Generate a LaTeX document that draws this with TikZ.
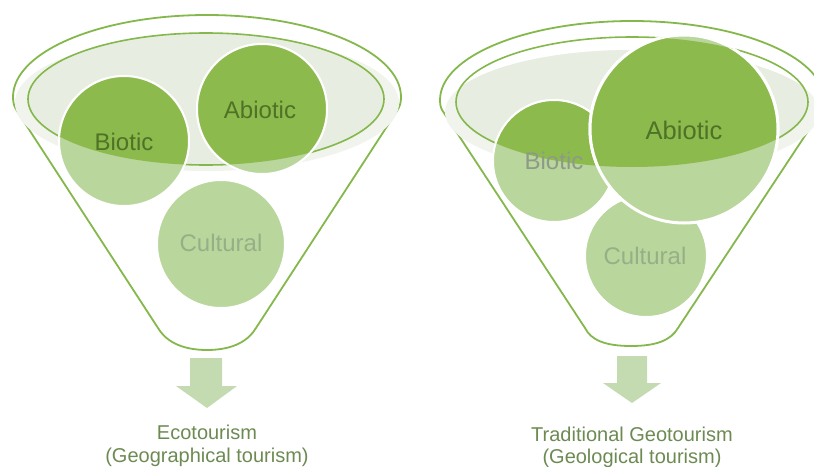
\documentclass[tikz,border=0pt]{standalone}
\usepackage{fontspec}
\setmainfont{Liberation Sans}
\definecolor{gline}{HTML}{84B84C}
\definecolor{gdark}{HTML}{8CBA4C}
\definecolor{glight}{HTML}{B9D69C}
\definecolor{rimfill}{HTML}{F1F4EC}
\definecolor{innerfill}{HTML}{E7EDE0}
\definecolor{arrowc}{HTML}{C4DAB1}
\definecolor{txtdark}{HTML}{4E7226}
\definecolor{txtgray}{HTML}{8E9A88}
\definecolor{txtcult}{HTML}{97AF86}
\definecolor{txtbottom}{HTML}{6C8A52}
\begin{document}
\begin{tikzpicture}[x=1pt,y=-1pt,
  funnel/.style={draw=gline, line width=1.8pt, fill=white},
  rimline/.style={draw=gline, line width=1.6pt},
  lbl/.style={font=\fontsize{24}{28}\selectfont, inner sep=0pt},
  biglbl/.style={font=\fontsize{25.5}{29}\selectfont, inner sep=0pt},
  bottomlbl/.style={font=\fontsize{20}{23}\selectfont, text=txtbottom, inner sep=0pt, anchor=base},
  ball/.style={fill=glight, draw=white, line width=2pt},
  darkball/.style={fill=gdark, draw=white, line width=2pt},
  blockarrow/.style={fill=arrowc}]
\useasboundingbox (0,0) rectangle (814,466);

% ---------------- left funnel ----------------
\draw[funnel] (13,97) arc[start angle=180, end angle=360, x radius=194, y radius=82]
  .. controls (401,103) and (400,106) .. (397,111) -- (256,328)
  .. controls (249,340) and (234,350) .. (207,350)
  .. controls (180,350) and (165,340) .. (158,328) -- (17,111)
  .. controls (14,106) and (13,103) .. (13,97) -- cycle;
\fill[rimfill] (207,103) ellipse[x radius=192, y radius=68];
\begin{scope}
  \clip (206,99) ellipse[x radius=178, y radius=66];
  \fill[innerfill] (206,99) ellipse[x radius=178, y radius=66];
\end{scope}
\draw[rimline] (206,99) ellipse[x radius=178, y radius=66];

\draw[ball] (124,141) circle[radius=65];
\begin{scope}
  \clip (206,99) ellipse[x radius=178, y radius=66];
  \draw[darkball] (124,141) circle[radius=65];
\end{scope}
\node[lbl, text=txtdark] (biotic1) at (124,142) {Biotic};

\draw[ball] (262,109) circle[radius=65];
\begin{scope}
  \clip (206,99) ellipse[x radius=178, y radius=66];
  \draw[darkball] (262,109) circle[radius=65];
\end{scope}
\node[lbl, text=txtdark] (abiotic1) at (260,110) {Abiotic};

\draw[ball] (221,244) circle[radius=64];
\node[lbl, text=txtcult] (cultural1) at (221,243) {Cultural};

\fill[blockarrow] (190,358) -- (222,358) -- (222,386) -- (237,386) -- (207,408)
  -- (176,386) -- (190,386) -- cycle;
\node[bottomlbl] (eco1) at (207,439) {Ecotourism};
\node[bottomlbl] (eco2) at (207,462) {(Geographical tourism)};

% ---------------- right funnel ----------------
\draw[funnel] (440,100) arc[start angle=180, end angle=360, x radius=192, y radius=79]
  .. controls (824,106) and (823,109) .. (820,113) -- (678,328)
  .. controls (671,340) and (657,346) .. (631,346)
  .. controls (605,346) and (591,340) .. (585,328) -- (444,113)
  .. controls (441,109) and (440,106) .. (440,100) -- cycle;
\fill[rimfill] (632,112) ellipse[x radius=187, y radius=62];
\begin{scope}
  \clip (632,102) ellipse[x radius=176, y radius=65];
  \fill[innerfill] (632,112) ellipse[x radius=187, y radius=62];
\end{scope}
\draw[rimline] (632,102) ellipse[x radius=176, y radius=65];

\draw[ball] (646,256) circle[radius=61];
\node[lbl, text=txtcult] (cultural2) at (645,256) {Cultural};

\draw[ball] (554,161) circle[radius=61];
\begin{scope}
  \clip (632,102) ellipse[x radius=176, y radius=65];
  \draw[darkball] (554,161) circle[radius=61];
\end{scope}
\node[lbl, text=txtgray] (biotic2) at (554,161) {Biotic};

\draw[ball, line width=3pt] (684,129) circle[radius=94];
\begin{scope}
  \clip (632,102) ellipse[x radius=176, y radius=65];
  \draw[darkball, line width=3pt] (684,129) circle[radius=94];
\end{scope}
\node[biglbl, text=txtdark] (abiotic2) at (684,130) {Abiotic};

\fill[blockarrow] (617,356) -- (647,356) -- (647,383) -- (661,383) -- (632,403)
  -- (603,383) -- (617,383) -- cycle;
\node[bottomlbl] (geo1) at (632,441) {Traditional Geotourism};
\node[bottomlbl] (geo2) at (632,463) {(Geological tourism)};
\end{tikzpicture}
\end{document}
